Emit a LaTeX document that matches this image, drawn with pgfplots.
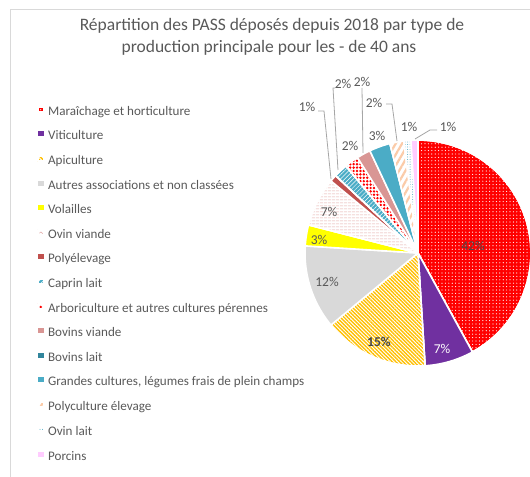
\documentclass[border=0pt]{standalone}
\usepackage{fontspec}
\setmainfont{Carlito}
\usepackage{pgfplots}
\pgfplotsset{compat=1.18}
\usetikzlibrary{patterns.meta}
\definecolor{txt}{HTML}{595959}
\definecolor{frame}{HTML}{D9D9D9}
\definecolor{leadc}{HTML}{A6A6A6}
\definecolor{cvit}{HTML}{7030A0}
\definecolor{cgold}{HTML}{FFC000}
\definecolor{cgray}{HTML}{D9D9D9}
\definecolor{cyel}{HTML}{FFFF00}
\definecolor{covv}{HTML}{E3A9A7}
\definecolor{cpol}{HTML}{C0504D}
\definecolor{cblue}{HTML}{4BACC6}
\definecolor{cbv}{HTML}{D99694}
\definecolor{cbl}{HTML}{31859C}
\definecolor{cpeach}{HTML}{FBCBA8}
\definecolor{cpor}{HTML}{FFCCFF}
\tikzdeclarepattern{
  name=waves,
  type=uncolored,
  bounding box={(0,0) and (4bp,3bp)},
  tile size={(4bp,3bp)},
  code={\draw[line width=0.55bp] (0,1.5bp) .. controls (1bp,2.8bp) .. (2bp,1.5bp) .. controls (3bp,0.2bp) .. (4bp,1.5bp);}
}
\pgfplotsset{
  smar/.style={fill=red, postaction={pattern={Dots[radius=0.6bp, distance=3.4bp]}, pattern color=white}},
  svit/.style={fill=cvit},
  sapi/.style={fill=white, postaction={pattern={Lines[angle=-45, distance=2.6bp, line width=1.4bp]}, pattern color=cgold}},
  saut/.style={fill=cgray},
  svol/.style={fill=cyel},
  sovv/.style={fill=white, postaction={pattern=waves, pattern color=covv}},
  spol/.style={fill=cpol},
  scap/.style={fill=cblue, postaction={pattern={Lines[angle=45, distance=3bp, line width=0.5bp]}, pattern color=white}},
  sarb/.style={fill=white, postaction={pattern={Dots[radius=1.35bp, distance=3.4bp]}, pattern color=red}},
  sbv/.style={fill=cbv},
  sbl/.style={fill=cbl},
  sgc/.style={fill=cblue},
  spc/.style={fill=white, postaction={pattern={Lines[angle=60, distance=5.5bp, line width=2.2bp]}, pattern color=cpeach}},
  sol/.style={fill=white, postaction={pattern={Dots[radius=0.5bp, distance=2.5bp]}, pattern color=cblue}},
  spor/.style={fill=cpor},
}
\newcommand\cx{418}
\newcommand\cy{224}
\newcommand\R{113}
\gdef\curang{90}
\newcommand\slice[3]{%
  \pgfmathsetmacro\endang{\curang-3.6*#1}%
  \edef\doplot{\noexpand\addplot[#2, draw=white, line width=1.6bp, line join=round, domain=\endang:\curang, samples=40]}%
  \doplot ({\cx+\R*cos(x)},{\cy+\R*sin(x)}) -- (axis cs:\cx,\cy) -- cycle;
  \addlegendentry{#3}%
  \global\let\curang\endang}
\begin{document}
\begin{tikzpicture}
\useasboundingbox (0,0) rectangle (530bp,477bp);
\begin{axis}[
  at={(0,0)}, anchor=south west,
  width=530bp, height=477bp, scale only axis,
  xmin=0, xmax=530, ymin=0, ymax=477,
  hide axis,
  legend image code/.code={\path[#1, draw=none] (0bp,0.5bp) rectangle (6bp,5.5bp);},
  legend cell align=left,
  legend style={draw=none, fill=none, inner sep=0pt, outer sep=0pt,
    at={(axis cs:37,371)}, anchor=north west,
    row sep=12.5bp, column sep=3.5bp,
    font=\fontsize{13.1bp}{15bp}\selectfont, text=txt,
    nodes={inner sep=0pt, text height=9bp, text depth=3bp}},
]
% frame
\draw[frame, line width=1bp] (10,0) -- (10,467) -- (530,467);
% slices
\slice{42}{smar}{Maraîchage et horticulture}
\slice{7}{svit}{Viticulture}
\slice{15}{sapi}{Apiculture}
\slice{12}{saut}{Autres associations et non classées}
\slice{3}{svol}{Volailles}
\slice{7}{sovv}{Ovin viande}
\slice{1}{spol}{Polyélevage}
\slice{2}{scap}{Caprin lait}
\slice{2}{sarb}{Arboriculture et autres cultures pérennes}
\slice{2}{sbv}{Bovins viande}
\addlegendimage{sbl}
\addlegendentry{Bovins lait}
\slice{3}{sgc}{Grandes cultures, légumes frais de plein champs}
\slice{2}{spc}{Polyculture élevage}
\slice{1}{sol}{Ovin lait}
\slice{1}{spor}{Porcins}
% title
\node[anchor=base, text=txt, font=\fontsize{17.5bp}{20bp}\selectfont] at (272,446) {Répartition des PASS déposés depuis 2018 par type de};
\node[anchor=base, text=txt, font=\fontsize{17.5bp}{20bp}\selectfont] at (269,424) {production principale pour les - de 40 ans};
% leaders
\draw[leadc, line width=0.8bp] (318,366) -- (324,366) -- (331,298);
\draw[leadc, line width=0.8bp] (335,389) -- (333,389) -- (338,307);
\draw[leadc, line width=0.8bp] (362,389) -- (363,324);
\draw[leadc, line width=0.8bp] (386,373) -- (392,373) -- (397,336);
\draw[leadc, line width=0.8bp] (437,347) -- (430,347) -- (415,338);
% labels
\begin{scope}[every node/.style={text=txt, font=\fontsize{13.5bp}{15bp}\selectfont, inner sep=0pt}]
\node[text=black!72] at (473,231) {42\%};
\node[text=white] at (442,128) {7\%};
\node[text=black!72, font=\fontsize{13.5bp}{15bp}\selectfont\bfseries] at (379,135) {15\%};
\node at (327,195) {12\%};
\node at (319,237) {3\%};
\node at (329,265) {7\%};
\node at (307,370) {1\%};
\node at (343,393) {2\%};
\node at (362,395) {2\%};
\node at (374,374) {2\%};
\node at (409,350) {1\%};
\node at (448,350) {1\%};
\node at (350,331) {2\%};
\node at (377,341) {3\%};
\end{scope}
\end{axis}
\end{tikzpicture}
\end{document}
